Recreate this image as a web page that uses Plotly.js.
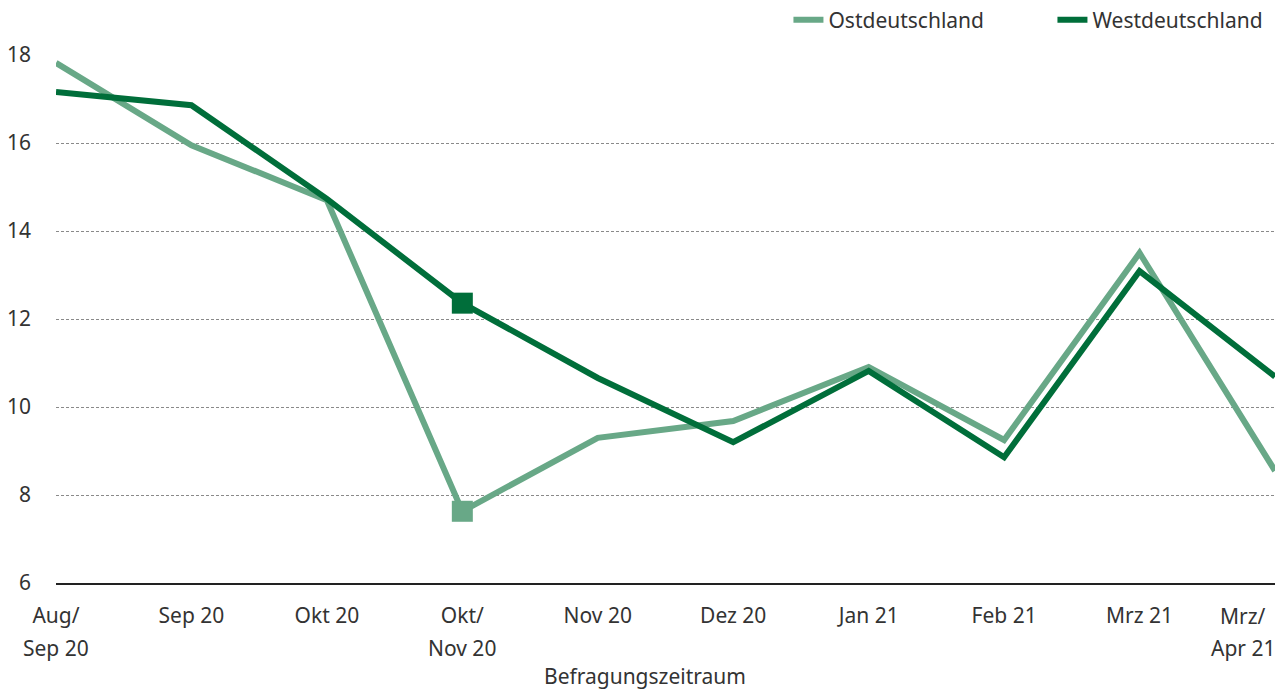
<!DOCTYPE html>
<html>
<head>
<meta charset="utf-8">
<script src="https://cdn.plot.ly/plotly-3.0.1.min.js"></script>
<style>html,body{margin:0;padding:0;background:#fff;}#chart{width:1286px;height:690px;}</style>
</head>
<body>
<div id="chart"></div>
<script>
const categories = ["Aug/ Sep 20","Sep 20","Okt 20","Okt/ Nov 20","Nov 20","Dez 20","Jan 21","Feb 21","Mrz 21","Mrz/ Apr 21"];
const tickLabelsLine1 = ["Aug/","Sep 20","Okt 20","Okt/","Nov 20","Dez 20","Jan 21","Feb 21","Mrz 21","Mrz/"];
const tickLabelsLine2 = ["Sep 20","","","Nov 20","","","","","","Apr 21"];
const ostdeutschland = [17.82, 15.95, 14.70, 7.63, 9.30, 9.68, 10.91, 9.25, 13.50, 8.55];
const westdeutschland = [17.16, 16.86, 14.73, 12.36, 10.66, 9.20, 10.82, 8.86, 13.09, 10.69];
const markedIndex = 3;
const seriesNames = ["Ostdeutschland","Westdeutschland"];
const xTitle = "Befragungszeitraum";
const yTicks = [6, 8, 10, 12, 14, 16, 18];

const cOst = "#68a887", cWest = "#006e3a";
const font = "'Noto Sans', sans-serif";
const fsize = 21;
const tcol = "#333";
const last = categories.length - 1;

const traces = [
  {x: categories, y: ostdeutschland, name: seriesNames[0], type: "scatter", mode: "lines",
   line: {color: cOst, width: 6}, cliponaxis: false},
  {x: categories, y: westdeutschland, name: seriesNames[1], type: "scatter", mode: "lines",
   line: {color: cWest, width: 6}, cliponaxis: false},
  {x: [categories[markedIndex]], y: [ostdeutschland[markedIndex]], type: "scatter", mode: "markers",
   marker: {symbol: "square", size: 21, color: cOst}, showlegend: false, hoverinfo: "skip", cliponaxis: false},
  {x: [categories[markedIndex]], y: [westdeutschland[markedIndex]], type: "scatter", mode: "markers",
   marker: {symbol: "square", size: 21, color: cWest}, showlegend: false, hoverinfo: "skip", cliponaxis: false}
];

// axis tick labels: first line of each label (the last one is placed inside the picture below)
const axisText = tickLabelsLine1.map((t, i) => i === last ? "" : t);

const annotations = [];
tickLabelsLine1.forEach((t, i) => {
  if (i === last) annotations.push({x: categories[i], xref: "x", y: 0, yref: "paper", text: t,
    showarrow: false, xanchor: "center", yanchor: "middle", xshift: -32, yshift: -33,
    font: {family: font, size: fsize, color: tcol}});
});
tickLabelsLine2.forEach((t, i) => {
  if (t) annotations.push({x: categories[i], xref: "x", y: 0, yref: "paper", text: t,
    showarrow: false, xanchor: "center", yanchor: "middle", xshift: i === last ? -32 : 0, yshift: -65,
    font: {family: font, size: fsize, color: tcol}});
});
annotations.push({x: 0.483, xref: "paper", y: 0, yref: "paper", text: xTitle, showarrow: false,
  xanchor: "center", yanchor: "middle", yshift: -93, font: {family: font, size: fsize, color: tcol}});

const layout = {
  width: 1286, height: 690,
  margin: {l: 56, r: 11, t: 55, b: 107, autoexpand: false},
  paper_bgcolor: "#fff", plot_bgcolor: "#fff",
  font: {family: font, size: fsize, color: tcol},
  showlegend: true,
  legend: {orientation: "h", x: 1.034, xanchor: "right", y: 1.066, yanchor: "middle",
           font: {family: font, size: fsize, color: tcol}, entrywidth: 219, bgcolor: "rgba(0,0,0,0)"},
  xaxis: {type: "category", range: [0, 9], tickvals: categories, ticktext: axisText,
          showgrid: false, showline: true, linecolor: "#222", linewidth: 2, ticks: "",
          tickfont: {family: font, size: fsize, color: tcol}, ticklabelstandoff: 13,
          zeroline: false, fixedrange: true},
  yaxis: {range: [6, 18], tickvals: yTicks, showgrid: true, gridcolor: "#8a8a8a", gridwidth: 1,
          griddash: "3px,2px", zeroline: false, showline: false, ticks: "",
          tickfont: {family: font, size: fsize, color: tcol}, ticklabelstandoff: 24, fixedrange: true},
  annotations: annotations
};

Plotly.newPlot("chart", traces, layout, {displayModeBar: false, staticPlot: true});
</script>
</body>
</html>
